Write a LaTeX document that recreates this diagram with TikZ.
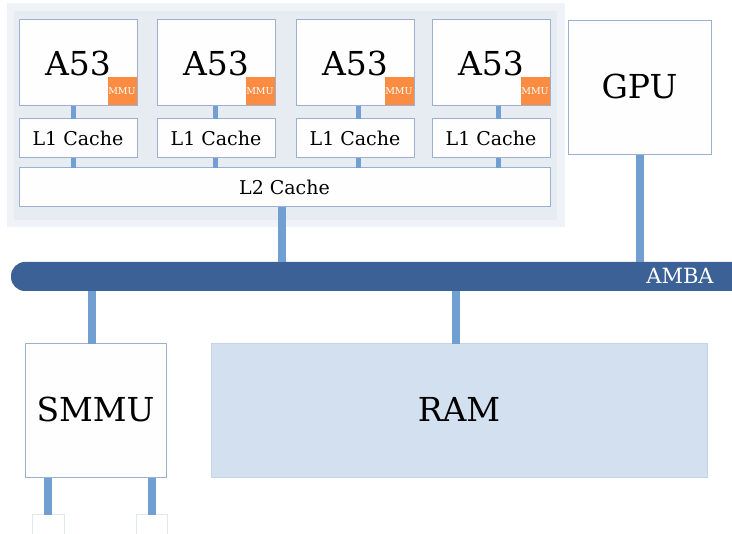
\documentclass[tikz,border=0pt]{standalone}
\usepackage{fontspec}
\setmainfont{DejaVu Serif}
\usetikzlibrary{calc}
\definecolor{boxline}{HTML}{9AB1D1}
\definecolor{boxfill}{HTML}{FEFEFF}
\definecolor{outerbg}{HTML}{EFF3F8}
\definecolor{innerbg}{HTML}{E7ECF3}
\definecolor{mmuor}{HTML}{FB8C42}
\definecolor{linkc}{HTML}{729FD1}
\definecolor{ambac}{HTML}{3C6196}
\definecolor{ramfill}{HTML}{D3E0EF}
\definecolor{ramline}{HTML}{C3D3E8}
\definecolor{stubline}{HTML}{E1E7F0}
\tikzset{
  unitbox/.style={draw=boxline, fill=boxfill, line width=1pt, inner sep=0pt, outer sep=0pt, anchor=north west},
  bigtxt/.style={font=\fontsize{33}{36}\selectfont},
  midtxt/.style={font=\fontsize{19}{22}\selectfont},
  mmubox/.style={fill=mmuor, inner sep=0pt, outer sep=0pt, anchor=south east, minimum width=29pt, minimum height=28pt, text=white, font=\fontsize{9.5}{10}\selectfont},
  thinlink/.style={draw=linkc, line width=5pt},
  thicklink/.style={draw=linkc, line width=8pt},
}
\begin{document}
\begin{tikzpicture}[x=1pt,y=-1pt]
\useasboundingbox (0,0) rectangle (732,534);
\clip (0,0) rectangle (732,534);
% cluster background
\fill[outerbg] (7,3) rectangle (565,227);
\fill[innerbg] (14,11) rectangle (557,220);
% cores
\foreach \i/\x/\c in {1/19/73, 2/157/215.5, 3/296/358, 4/432/498.5}{
  \node[unitbox, bigtxt, minimum width=118pt, minimum height=86pt] (core\i) at (\x,20) {A53};
  \node[mmubox] (mmu\i) at ($(core\i.south east)+(-0.5,-0.5)$) {MMU};
  \node[unitbox, midtxt, minimum width=118pt, minimum height=39pt] (lone\i) at (\x,119) {L1 Cache};
  \coordinate (cx\i) at (\c,0);
}
\node[unitbox, midtxt, minimum width=531pt, minimum height=39pt] (ltwo) at (19,168) {L2 Cache};
\foreach \i in {1,...,4}{
  \draw[thinlink] (core\i.south -| cx\i) -- (lone\i.north -| cx\i);
  \draw[thinlink] (lone\i.south -| cx\i) -- (ltwo.north -| cx\i);
}
% GPU
\node[unitbox, bigtxt, minimum width=143pt, minimum height=134pt] (gpu) at (568,21) {\raisebox{4pt}{GPU}};
% AMBA bus
\node[fill=ambac, rounded corners=14pt, inner sep=0pt, outer sep=0pt, anchor=north west, minimum width=735pt, minimum height=29pt] (amba) at (11,262) {};
\node[text=white, font=\fontsize{21}{24}\selectfont, anchor=center] (ambat) at (680,276) {AMBA};
% SMMU and RAM
\node[unitbox, bigtxt, minimum width=141pt, minimum height=134pt] (smmu) at (25,344) {\raisebox{4pt}{SMMU}};
\node[draw=ramline, fill=ramfill, line width=1pt, inner sep=0pt, outer sep=0pt, anchor=north west, minimum width=496pt, minimum height=134pt, bigtxt] (ram) at (211,344) {\raisebox{4pt}{RAM}};
% stubs
\node[draw=stubline, fill=white, line width=1pt, inner sep=0pt, outer sep=0pt, anchor=north west, minimum width=32pt, minimum height=40pt] (s1) at (32,515) {};
\node[draw=stubline, fill=white, line width=1pt, inner sep=0pt, outer sep=0pt, anchor=north west, minimum width=31pt, minimum height=40pt] (s2) at (136,515) {};
% links
\coordinate (kl2) at (282,0);
\coordinate (ksm) at (92,0);
\coordinate (kram) at (456,0);
\draw[thicklink] (ltwo.south -| kl2) -- (amba.north -| kl2);
\draw[thicklink] (gpu.south) -- (amba.north -| gpu.south);
\draw[thicklink] (amba.south -| ksm) -- (smmu.north -| ksm);
\draw[thicklink] (amba.south -| kram) -- (ram.north -| kram);
\draw[thicklink] (smmu.south -| s1.north) -- (s1.north);
\draw[thicklink] (smmu.south -| s2.north) -- (s2.north);
\end{tikzpicture}
\end{document}
